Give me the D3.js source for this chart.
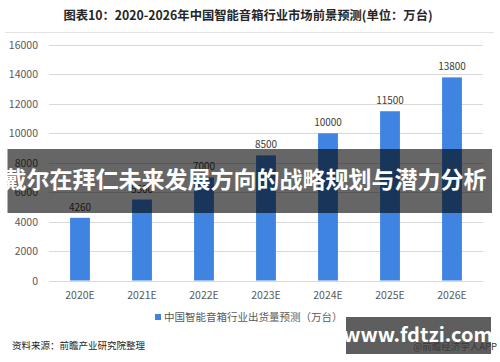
<!DOCTYPE html>
<html>
<head>
<meta charset="utf-8">
<script src="https://cdn.jsdelivr.net/npm/d3@7"></script>
<style>
  body { margin: 0; background: #fff; }
  svg { display: block; font-family: "Noto Sans CJK SC", "Noto Sans", sans-serif; }
</style>
</head>
<body>
<div id="chart"></div>
<script>
const years = ["2020E", "2021E", "2022E", "2023E", "2024E", "2025E", "2026E"]
const shipments = [4260, 5500, 7000, 8500, 10000, 11500, 13800]
const yTicks = [0, 2000, 4000, 6000, 8000, 10000, 12000, 14000, 16000]

const W = 500, H = 362
const svg = d3.select("#chart").append("svg")
    .attr("width", W)
    .attr("height", H)

// title
svg.append("text")
    .attr("x", 248).attr("y", 20)
    .attr("text-anchor", "middle")
    .attr("font-size", 12.3)
    .attr("font-weight", "bold")
    .attr("fill", "#262626")
    .text("图表10：2020-2026年中国智能音箱行业市场前景预测(单位：万台)")

svg.append("line")
    .attr("x1", 5).attr("x2", 494)
    .attr("y1", 32.5).attr("y2", 32.5)
    .attr("stroke", "#e3e3e3")

const x = d3.scaleBand()
    .domain(years)
    .range([49, 483])
    .paddingInner(0.68)
    .paddingOuter(0.34)

const y = d3.scaleLinear()
    .domain([0, 16000])
    .range([280.5, 45])

// grid
svg.append("g").selectAll("line")
    .data(yTicks)
    .enter().append("line")
    .attr("x1", 49).attr("x2", 483)
    .attr("y1", d => Math.round(y(d)) + 0.5)
    .attr("y2", d => Math.round(y(d)) + 0.5)
    .attr("stroke", "#d9d9d9")

svg.append("g").selectAll("text")
    .data(yTicks)
    .enter().append("text")
    .attr("x", 38)
    .attr("y", d => y(d) + 4)
    .attr("text-anchor", "end")
    .attr("font-size", 10.5)
    .attr("fill", "#595959")
    .text(d => d)

// bars
svg.append("g").selectAll("rect")
    .data(shipments)
    .enter().append("rect")
    .attr("x", (d, i) => x(years[i]))
    .attr("width", x.bandwidth())
    .attr("y", d => y(d))
    .attr("height", d => y(0) - y(d))
    .attr("fill", "#3f84e0")

svg.append("g").selectAll("text")
    .data(shipments)
    .enter().append("text")
    .attr("x", (d, i) => x(years[i]) + x.bandwidth() / 2)
    .attr("y", d => y(d) - 7)
    .attr("text-anchor", "middle")
    .attr("font-size", 10)
    .attr("fill", "#404040")
    .text(d => d)

// x labels
svg.append("g").selectAll("text")
    .data(years)
    .enter().append("text")
    .attr("x", d => x(d) + x.bandwidth() / 2)
    .attr("y", 299)
    .attr("text-anchor", "middle")
    .attr("font-size", 10.5)
    .attr("fill", "#595959")
    .text(d => d)

// legend
svg.append("rect")
    .attr("x", 155).attr("y", 314)
    .attr("width", 6).attr("height", 6)
    .attr("fill", "#3f84e0")
svg.append("text")
    .attr("x", 164).attr("y", 321)
    .attr("font-size", 10.5)
    .attr("fill", "#595959")
    .text("中国智能音箱行业出货量预测（万台）")

// source
svg.append("text")
    .attr("x", 12).attr("y", 349)
    .attr("font-size", 9.5)
    .attr("fill", "#262626")
    .text("资料来源：前瞻产业研究院整理")

// overlay banner
svg.append("rect")
    .attr("x", 7.5).attr("y", 149)
    .attr("width", 484.5).attr("height", 64)
    .attr("fill", "#000")
    .attr("fill-opacity", 0.6)
svg.append("text")
    .attr("x", 245).attr("y", 188)
    .attr("text-anchor", "middle")
    .attr("font-size", 23)
    .attr("font-weight", "bold")
    .attr("fill", "#fff")
    .text("戴尔在拜仁未来发展方向的战略规划与潜力分析")

// site badge
svg.append("rect")
    .attr("x", 346).attr("y", 317)
    .attr("width", 145).attr("height", 37)
    .attr("fill", "#5e5e5e")
svg.append("text")
    .attr("x", 418).attr("y", 342)
    .attr("text-anchor", "middle")
    .attr("font-size", 20)
    .attr("font-weight", "bold")
    .attr("fill", "#fff")
    .text("www.fdtzi.com")
svg.append("text")
    .attr("x", 497).attr("y", 350)
    .attr("text-anchor", "end")
    .attr("font-size", 9.5)
    .attr("fill", "#3a3a3a")
    .text("@前瞻经济学人APP")
</script>
</body>
</html>
